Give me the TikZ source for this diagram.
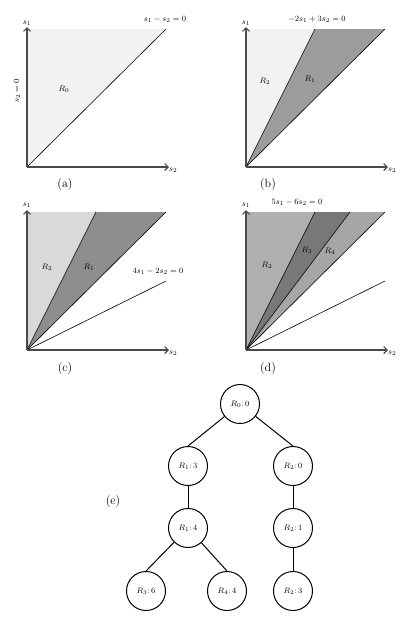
\documentclass[tikz,border=0pt]{standalone}
\usetikzlibrary{arrows.meta}
\definecolor{fillA}{HTML}{F2F2F2}
\definecolor{fillB}{HTML}{9C9C9C}
\definecolor{fillC}{HTML}{D9D9D9}
\definecolor{fillD}{HTML}{8E8E8E}
\definecolor{fillE}{HTML}{B0B0B0}
\definecolor{fillF}{HTML}{787878}
\definecolor{fillG}{HTML}{A6A6A6}
\definecolor{axisgray}{HTML}{4A4A4A}
\tikzset{
  axis/.style={draw=axisgray, line width=1.1pt, -{Straight Barb[length=3.5pt,width=7pt]}},
  bnd/.style={draw=black, line width=0.6pt},
  lbl/.style={font=\fontsize{8.5}{10}\selectfont, inner sep=1pt},
  captxt/.style={font=\fontsize{12}{14}\selectfont},
  tnode/.style={circle, draw, line width=1pt, minimum size=39pt, inner sep=0pt, font=\fontsize{8.5}{10}\selectfont},
  tedge/.style={line width=1pt}
}
\begin{document}
\begin{tikzpicture}[x=1pt,y=-1pt]
\useasboundingbox (0,0) rectangle (409,633);
% ---------- (a)
\fill[fillA] (27,167) -- (27,29) -- (166,29) -- cycle;
\draw[bnd] (27,167) -- (166,29);
\draw[axis] (27,167) -- (27,27);
\draw[axis] (27,167) -- (169,167);
\node[lbl] at (27,23) {$s_1$};
\node[lbl,anchor=west] at (168,170) {$s_2$};
\node[lbl] at (165,19) {$s_1 - s_2 = 0$};
\node[lbl,rotate=90] at (17,91) {$s_2 = 0$};
\node[lbl] at (64,89) {$R_0$};
\node[captxt] at (65,185) {(a)};
% ---------- (b)
\fill[fillA] (246,167) -- (246,29) -- (315,29) -- cycle;
\fill[fillB] (246,167) -- (315,29) -- (385,29) -- cycle;
\draw[bnd] (246,167) -- (315,29);
\draw[bnd] (246,167) -- (385,29);
\draw[axis] (246,167) -- (246,27);
\draw[axis] (246,167) -- (388,167);
\node[lbl] at (246,23) {$s_1$};
\node[lbl,anchor=west] at (387,170) {$s_2$};
\node[lbl] at (317,19) {$-2s_1 + 3s_2 = 0$};
\node[lbl] at (265,81) {$R_2$};
\node[lbl] at (310,79) {$R_1$};
\node[captxt] at (268,185) {(b)};
% ---------- (c)
\fill[fillC] (27,350) -- (27,212) -- (96,212) -- cycle;
\fill[fillD] (27,350) -- (96,212) -- (166,212) -- cycle;
\draw[bnd] (27,350) -- (96,212);
\draw[bnd] (27,350) -- (166,212);
\draw[bnd] (27,350) -- (166,281);
\draw[axis] (27,350) -- (27,210);
\draw[axis] (27,350) -- (169,350);
\node[lbl] at (27,205) {$s_1$};
\node[lbl,anchor=west] at (168,353) {$s_2$};
\node[lbl] at (158,271) {$4s_1 - 2s_2 = 0$};
\node[lbl] at (47,267) {$R_2$};
\node[lbl] at (89,267) {$R_1$};
\node[captxt] at (65,368) {(c)};
% ---------- (d)
\fill[fillE] (246,350) -- (246,212) -- (315,212) -- cycle;
\fill[fillF] (246,350) -- (315,212) -- (350,212) -- cycle;
\fill[fillG] (246,350) -- (350,212) -- (385,212) -- cycle;
\draw[bnd] (246,350) -- (315,212);
\draw[bnd] (246,350) -- (350,212);
\draw[bnd] (246,350) -- (385,212);
\draw[bnd] (246,350) -- (385,281);
\draw[axis] (246,350) -- (246,210);
\draw[axis] (246,350) -- (388,350);
\node[lbl] at (246,205) {$s_1$};
\node[lbl,anchor=west] at (387,353) {$s_2$};
\node[lbl] at (297,202) {$5s_1 - 6s_2 = 0$};
\node[lbl] at (267,265) {$R_2$};
\node[lbl] at (307,250) {$R_3$};
\node[lbl] at (330,251) {$R_4$};
\node[captxt] at (268,368) {(d)};
% ---------- (e) tree
\node[tnode] (n0) at (240,404) {$R_0{:}\,0$};
\node[tnode] (n1) at (188,466) {$R_1{:}\,3$};
\node[tnode] (n2) at (293,466) {$R_2{:}\,0$};
\node[tnode] (n3) at (188,528) {$R_1{:}\,4$};
\node[tnode] (n4) at (293,528) {$R_2{:}\,1$};
\node[tnode] (n5) at (146,591) {$R_3{:}\,6$};
\node[tnode] (n6) at (227,591) {$R_4{:}\,4$};
\node[tnode] (n7) at (293,591) {$R_2{:}\,3$};
\draw[tedge] (n0) -- (n1.north);
\draw[tedge] (n0) -- (n2.north);
\draw[tedge] (n1) -- (n3);
\draw[tedge] (n2) -- (n4);
\draw[tedge] (n3) -- (n5.north);
\draw[tedge] (n3) -- (n6.north);
\draw[tedge] (n4) -- (n7);
\node[captxt] at (113,501) {(e)};
\end{tikzpicture}
\end{document}
